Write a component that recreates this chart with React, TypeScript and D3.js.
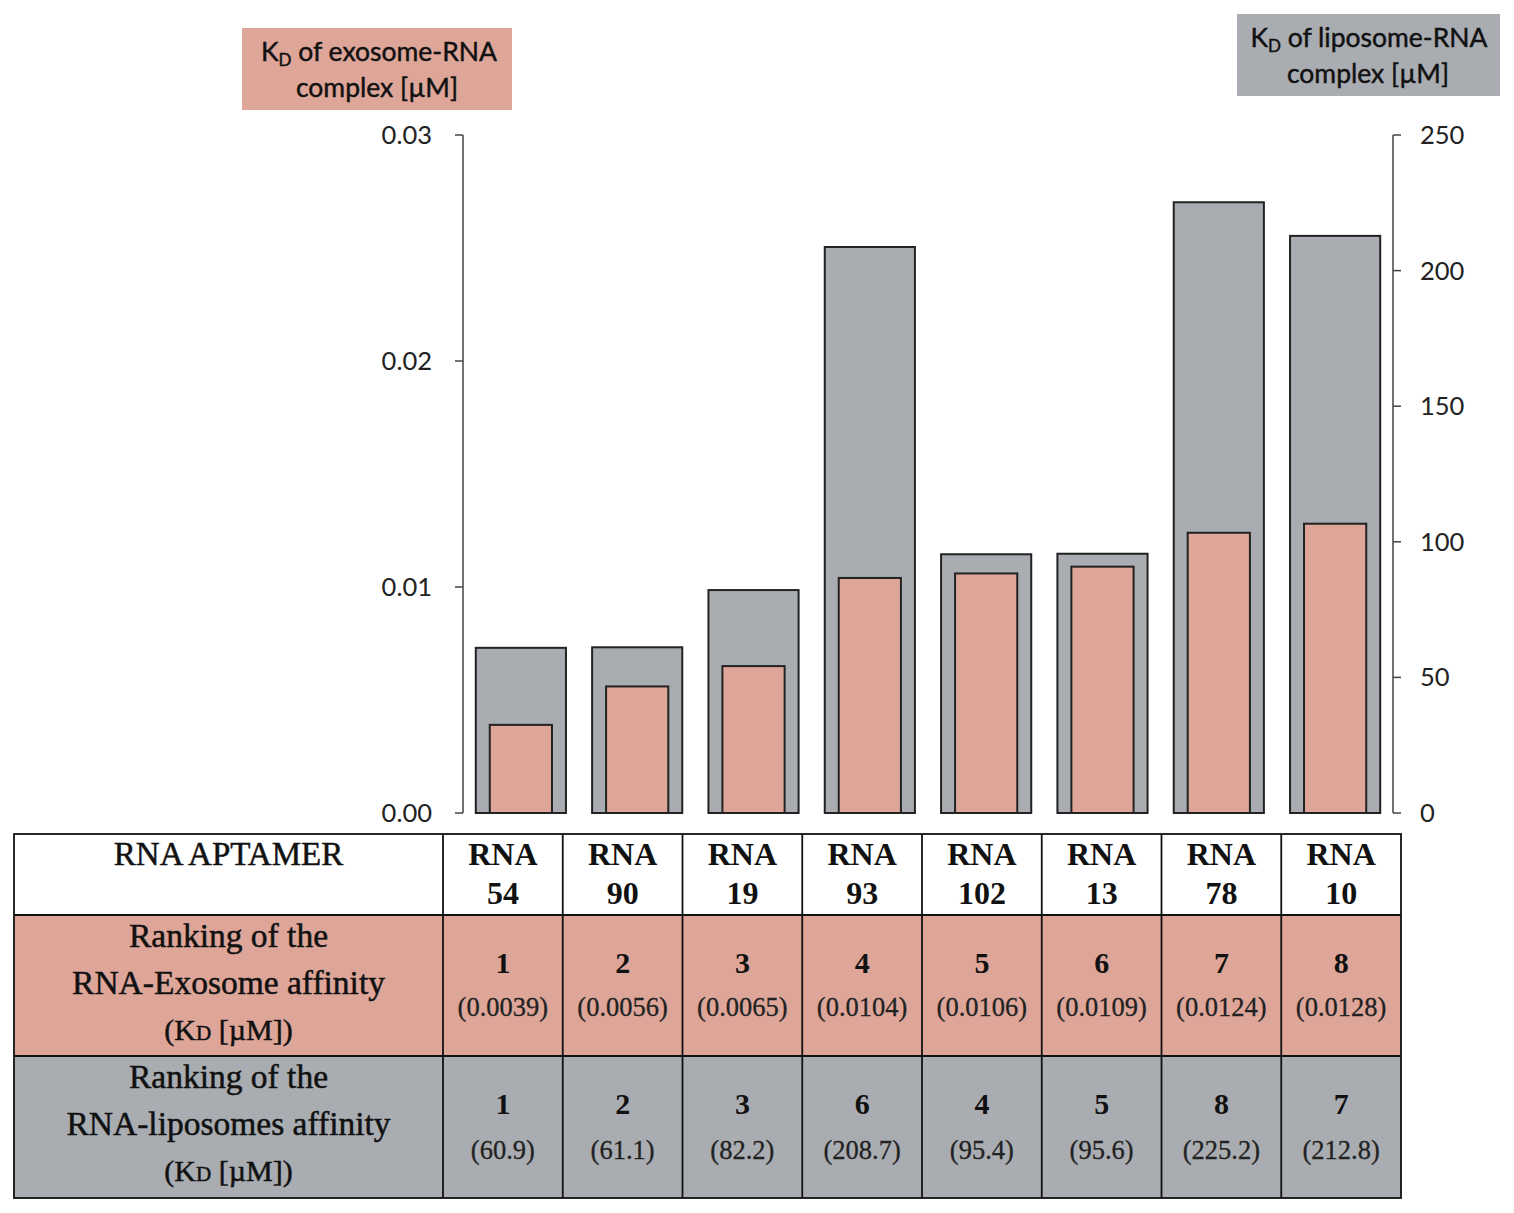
import React from "react";
import * as d3 from "d3";

const categories = ["54", "90", "19", "93", "102", "13", "78", "10"];
const exosomeKd = [0.0039, 0.0056, 0.0065, 0.0104, 0.0106, 0.0109, 0.0124, 0.0128];
const liposomeKd = [60.9, 61.1, 82.2, 208.7, 95.4, 95.6, 225.2, 212.8];
const exosomeRank = [1, 2, 3, 4, 5, 6, 7, 8];
const liposomeRank = [1, 2, 3, 6, 4, 5, 8, 7];
const leftTicks = [0, 0.01, 0.02, 0.03];
const rightTicks = [0, 50, 100, 150, 200, 250];

const PINK = "#DEA699";
const GRAY = "#A9ADB1";
const SERIF = "'Liberation Serif', 'DejaVu Serif', serif";
const SANS = "Lato, 'Open Sans', sans-serif";

export default function App() {
  const W = 1514, H = 1213;
  const plotTop = 135, plotBottom = 813;
  const axisL = 463, axisR = 1393;

  const x = d3.scaleBand<string>().domain(categories).range([axisL, axisR]).paddingInner(0.225).paddingOuter(0.11);
  const yL = d3.scaleLinear().domain([0, 0.03]).range([plotBottom, plotTop]);
  const yR = d3.scaleLinear().domain([0, 250]).range([plotBottom, plotTop]);
  const bw = x.bandwidth();
  const pw = bw * 0.69;

  const tabL = 14, tabR = 1401, colSplit = 443;
  const tx = d3.scaleBand<string>().domain(categories).range([colSplit, tabR]).padding(0);
  const rowY = [834, 915, 1056, 1198];
  const txt = "#111";
  const labelX = (tabL + colSplit) / 2;
  const thick = { stroke: txt, strokeWidth: 0.5 };
  const boxThick = { stroke: txt, strokeWidth: 0.45 };

  return (
    <svg width={W} height={H} style={{ position: "absolute", left: 0, top: 0, background: "#fff" }}>
      {/* Axis label boxes */}
      <rect x={242} y={28} width={270} height={82} fill={PINK} />
      <text x={379} y={61} textAnchor="middle" fontFamily={SANS} fontSize={26.5} fill={txt} {...boxThick}>
        K<tspan fontSize={17} dy={5}>D</tspan><tspan dy={-5}> of exosome-RNA</tspan>
      </text>
      <text x={377} y={97} textAnchor="middle" fontFamily={SANS} fontSize={26.5} fill={txt} {...boxThick}>complex [µM]</text>

      <rect x={1237} y={14} width={263} height={82} fill={GRAY} />
      <text x={1369} y={47} textAnchor="middle" fontFamily={SANS} fontSize={26.5} fill={txt} {...boxThick}>
        K<tspan fontSize={17} dy={5}>D</tspan><tspan dy={-5}> of liposome-RNA</tspan>
      </text>
      <text x={1368} y={83} textAnchor="middle" fontFamily={SANS} fontSize={26.5} fill={txt} {...boxThick}>complex [µM]</text>

      {/* Bars */}
      {categories.map((c, i) => (
        <g key={c}>
          <rect x={x(c)!} y={yR(liposomeKd[i])} width={bw} height={plotBottom - yR(liposomeKd[i])}
            fill={GRAY} stroke="#222" strokeWidth={2} />
          <rect x={x(c)! + (bw - pw) / 2} y={yL(exosomeKd[i])} width={pw} height={plotBottom - yL(exosomeKd[i])}
            fill={PINK} stroke="#222" strokeWidth={2} />
        </g>
      ))}

      {/* Left axis */}
      <line x1={axisL} x2={axisL} y1={plotTop} y2={plotBottom} stroke="#444" strokeWidth={1.5} />
      {leftTicks.map((t) => (
        <g key={t}>
          <line x1={axisL - 8} x2={axisL} y1={yL(t)} y2={yL(t)} stroke="#444" strokeWidth={1.5} />
          <text x={axisL - 31} y={yL(t)} dy="0.35em" textAnchor="end" fontFamily={SANS} fontSize={25.5} fill="#222">
            {d3.format(".2f")(t)}
          </text>
        </g>
      ))}

      {/* Right axis */}
      <line x1={axisR} x2={axisR} y1={plotTop} y2={plotBottom} stroke="#444" strokeWidth={1.5} />
      {rightTicks.map((t) => (
        <g key={t}>
          <line x1={axisR} x2={axisR + 8} y1={yR(t)} y2={yR(t)} stroke="#444" strokeWidth={1.5} />
          <text x={axisR + 27} y={yR(t)} dy="0.35em" textAnchor="start" fontFamily={SANS} fontSize={25.5} fill="#222">
            {t}
          </text>
        </g>
      ))}

      {/* Table backgrounds */}
      <rect x={tabL} y={rowY[0]} width={tabR - tabL} height={rowY[1] - rowY[0]} fill="#fff" />
      <rect x={tabL} y={rowY[1]} width={tabR - tabL} height={rowY[2] - rowY[1]} fill={PINK} />
      <rect x={tabL} y={rowY[2]} width={tabR - tabL} height={rowY[3] - rowY[2]} fill={GRAY} />

      {/* Table grid */}
      <rect x={tabL} y={rowY[0]} width={tabR - tabL} height={rowY[3] - rowY[0]} fill="none" stroke="#111" strokeWidth={1.8} />
      {rowY.slice(1, 3).map((yy) => (
        <line key={yy} x1={tabL} x2={tabR} y1={yy} y2={yy} stroke="#111" strokeWidth={1.8} />
      ))}
      {[colSplit, ...categories.slice(1).map((c) => tx(c)!)].map((xx, i) => (
        <line key={i} x1={xx} x2={xx} y1={rowY[0]} y2={rowY[3]} stroke="#111" strokeWidth={1.8} />
      ))}

      {/* Header row */}
      <text x={labelX} y={865} textAnchor="middle" fontFamily={SERIF} fontSize={33} fill={txt} {...thick}>RNA APTAMER</text>
      {categories.map((c) => (
        <g key={c}>
          <text x={tx(c)! + tx.bandwidth() / 2} y={865} textAnchor="middle" fontFamily={SERIF} fontWeight="bold" fontSize={32} fill={txt}>RNA</text>
          <text x={tx(c)! + tx.bandwidth() / 2} y={904} textAnchor="middle" fontFamily={SERIF} fontWeight="bold" fontSize={32} fill={txt}>{c}</text>
        </g>
      ))}

      {/* Exosome row */}
      <text x={labelX} y={947} textAnchor="middle" fontFamily={SERIF} fontSize={33.5} fill={txt} {...thick}>Ranking of the</text>
      <text x={labelX} y={994} textAnchor="middle" fontFamily={SERIF} fontSize={33.5} fill={txt} {...thick}>RNA-Exosome affinity</text>
      <text x={labelX} y={1040} textAnchor="middle" fontFamily={SERIF} fontSize={30} fill={txt} {...thick}>
        (K<tspan fontSize={21}>D</tspan> [µM])
      </text>
      {categories.map((c, i) => (
        <g key={c}>
          <text x={tx(c)! + tx.bandwidth() / 2} y={973} textAnchor="middle" fontFamily={SERIF} fontWeight="bold" fontSize={30} fill={txt}>{exosomeRank[i]}</text>
          <text x={tx(c)! + tx.bandwidth() / 2} y={1016} textAnchor="middle" fontFamily={SERIF} fontSize={26.5} fill="#222" stroke="#222" strokeWidth={0.3}>({exosomeKd[i].toFixed(4)})</text>
        </g>
      ))}

      {/* Liposome row */}
      <text x={labelX} y={1088} textAnchor="middle" fontFamily={SERIF} fontSize={33.5} fill={txt} {...thick}>Ranking of the</text>
      <text x={labelX} y={1135} textAnchor="middle" fontFamily={SERIF} fontSize={33.5} fill={txt} {...thick}>RNA-liposomes affinity</text>
      <text x={labelX} y={1181} textAnchor="middle" fontFamily={SERIF} fontSize={30} fill={txt} {...thick}>
        (K<tspan fontSize={21}>D</tspan> [µM])
      </text>
      {categories.map((c, i) => (
        <g key={c}>
          <text x={tx(c)! + tx.bandwidth() / 2} y={1114} textAnchor="middle" fontFamily={SERIF} fontWeight="bold" fontSize={30} fill={txt}>{liposomeRank[i]}</text>
          <text x={tx(c)! + tx.bandwidth() / 2} y={1159} textAnchor="middle" fontFamily={SERIF} fontSize={26.5} fill="#222" stroke="#222" strokeWidth={0.3}>({liposomeKd[i].toFixed(1)})</text>
        </g>
      ))}
    </svg>
  );
}
